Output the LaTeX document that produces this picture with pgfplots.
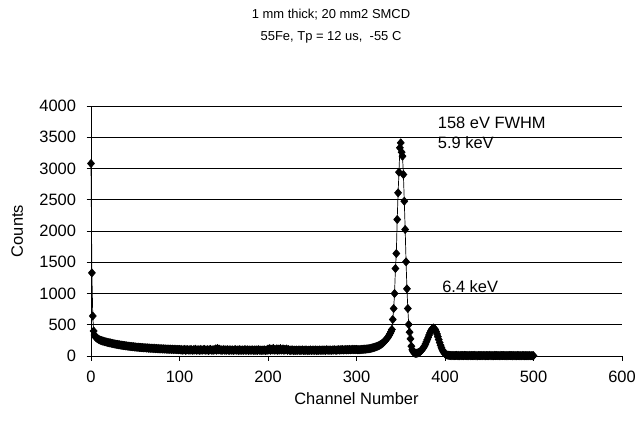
\documentclass[border=0pt]{standalone}
\usepackage{fontspec}
\setmainfont{Liberation Sans}
\usepackage{pgfplots}
\pgfplotsset{compat=1.18}
\begin{document}
\begin{tikzpicture}
\path[use as bounding box] (0,0) rectangle (639bp,421bp);
\begin{axis}[
  at={(91bp,65bp)}, anchor=south west,
  scale only axis, width=531bp, height=250bp,
  xmin=0, xmax=600, ymin=0, ymax=4000,
  xtick={0,100,...,600}, ytick={0,500,...,4000},
  axis lines*=left,
  axis line style={black, line width=0.8bp},
  ymajorgrids, grid style={black, line width=0.7bp},
  tick style={black, line width=0.8bp},
  tick align=outside, major tick length=4.5bp,
  /pgf/number format/assume math mode=true,
  /pgf/number format/1000 sep={},
  scaled ticks=false,
  font=\fontsize{16.5}{19}\selectfont,
  ticklabel style={font=\fontsize{16.5}{19}\selectfont},
  xticklabel style={yshift=-7bp},
  yticklabel style={xshift=-7bp},
  xlabel={Channel Number},
  ylabel={Counts},
  xlabel style={at={(axis description cs:0.5,-0.17)}, anchor=center},
  ylabel style={at={(axis description cs:-0.139,0.5)}, anchor=center},
  title={1 mm thick; 20 mm2 SMCD\\55Fe, Tp = 12 us,\ \ -55 C},
  title style={at={(axis description cs:0.452,1.295)}, anchor=center, align=center, font=\fontsize{13}{22}\selectfont},
  clip=false,
]
\addplot[black, line width=0.7bp, mark=diamond*, mark size=4bp, mark options={solid, fill=black, xscale=1.15}] coordinates {
(0,3080)(1,1330)(2,640)(3,400)(4,335)(5,305)(6,290)(7,280)(8,272)(9,262)(10,258)
(11,250)(12,246)(13,240)(14,238)(15,231)(16,229)(17,224)(18,221)(19,216)(20,214)
(21,210)(22,209)(23,203)(24,202)(25,197)(26,196)(27,191)(28,190)(29,186)(30,185)
(31,180)(32,181)(33,175)(34,176)(35,170)(36,172)(37,166)(38,167)(39,161)(40,163)
(41,158)(42,159)(43,154)(44,156)(45,150)(46,152)(47,147)(48,149)(49,144)(50,146)
(51,141)(52,143)(53,138)(54,141)(55,136)(56,138)(57,133)(58,136)(59,131)(60,134)
(61,129)(62,133)(63,126)(64,131)(65,124)(66,128)(67,122)(68,127)(69,120)(70,125)
(71,118)(72,124)(73,117)(74,121)(75,115)(76,120)(77,113)(78,119)(79,112)(80,117)
(81,110)(82,116)(83,109)(84,114)(85,108)(86,113)(87,106)(88,112)(89,105)(90,111)
(91,104)(92,110)(93,103)(94,109)(95,102)(96,108)(97,101)(98,107)(99,100)(100,106)
(101,98)(102,104)(103,92)(104,101)(105,96)(106,107)(107,90)(108,99)(109,103)(110,94)
(111,100)(112,93)(113,105)(114,97)(115,91)(116,102)(117,96)(118,108)(119,92)(120,99)
(121,95)(122,101)(123,89)(124,104)(125,97)(126,93)(127,100)(128,106)(129,91)(130,98)
(131,94)(132,102)(133,88)(134,99)(135,105)(136,93)(137,97)(138,90)(139,103)(140,96)
(141,115)(142,92)(143,120)(144,98)(145,110)(146,94)(147,101)(148,89)(149,97)(150,104)
(151,93)(152,99)(153,91)(154,102)(155,95)(156,88)(157,100)(158,96)(159,92)(160,98)
(161,90)(162,97)(163,103)(164,91)(165,95)(166,99)(167,87)(168,101)(169,94)(170,92)
(171,98)(172,89)(173,96)(174,102)(175,90)(176,94)(177,99)(178,88)(179,97)(180,93)
(181,91)(182,100)(183,95)(184,87)(185,98)(186,92)(187,96)(188,89)(189,101)(190,94)
(191,90)(192,97)(193,88)(194,95)(195,93)(196,99)(197,86)(198,96)(199,91)(200,112)
(201,94)(202,118)(203,90)(204,108)(205,97)(206,122)(207,92)(208,104)(209,95)(210,115)
(211,89)(212,110)(213,96)(214,119)(215,93)(216,101)(217,114)(218,90)(219,106)(220,98)
(221,112)(222,91)(223,103)(224,95)(225,88)(226,97)(227,92)(228,99)(229,86)(230,94)
(231,90)(232,96)(233,88)(234,93)(235,99)(236,87)(237,95)(238,91)(239,97)(240,89)
(241,94)(242,88)(243,98)(244,92)(245,86)(246,95)(247,90)(248,97)(249,89)(250,93)
(251,96)(252,88)(253,92)(254,99)(255,87)(256,94)(257,90)(258,97)(259,91)(260,95)
(261,89)(262,98)(263,92)(264,95)(265,88)(266,100)(267,93)(268,96)(269,90)(270,99)
(271,94)(272,91)(273,98)(274,93)(275,101)(276,95)(277,90)(278,99)(279,96)(280,102)
(281,93)(282,100)(283,97)(284,104)(285,95)(286,101)(287,98)(288,105)(289,96)(290,103)
(291,99)(292,106)(293,97)(294,104)(295,101)(296,108)(297,99)(298,105)(299,102)(300,107)
(301,100)(302,102)(303,100)(304,104)(305,103)(306,106)(307,105)(308,108)(309,110)(310,109)
(311,112)(312,114)(313,113)(314,117)(315,119)(316,122)(317,126)(318,130)(319,134)(320,138)
(321,143)(322,148)(323,153)(324,159)(325,165)(326,172)(327,180)(328,190)(329,200)(330,212)
(331,225)(332,240)(333,255)(334,272)(335,290)(336,310)(337,335)(338,360)(339,390)(340,424)
(341,584)(342,760)(343,1000)(344,1400)(345,1640)(346,2184)(347,2611)(348,2941)(349,3331)(350,3411)
(351,3261)(352,3197)(353,2904)(354,2477)(355,2024)(356,1507)(357,1075)(358,760)(359,504)(360,381)
(361,275)(362,157)(363,100)(364,70)(365,52)(366,45)(367,42)(368,44)(369,48)(370,55)
(371,62)(372,72)(373,85)(374,100)(375,118)(376,140)(377,165)(378,195)(379,228)(380,262)
(381,298)(382,335)(383,370)(384,400)(385,425)(386,440)(387,448)(388,440)(389,420)(390,390)
(391,352)(392,308)(393,262)(394,215)(395,172)(396,133)(397,100)(398,72)(399,50)(400,35)
(401,25)(402,18)(403,14)(404,12)(405,10)(406,8)(407,7)(408,9)(409,6)(410,8)
(411,5)(412,7)(413,9)(414,6)(415,8)(416,4)(417,7)(418,10)(419,6)(420,8)
(421,5)(422,9)(423,7)(424,6)(425,8)(426,4)(427,7)(428,9)(429,5)(430,8)
(431,6)(432,7)(433,10)(434,5)(435,8)(436,6)(437,4)(438,9)(439,7)(440,6)
(441,8)(442,5)(443,7)(444,9)(445,6)(446,4)(447,8)(448,7)(449,5)(450,9)
(451,6)(452,8)(453,5)(454,7)(455,4)(456,9)(457,6)(458,8)(459,5)(460,7)
(461,6)(462,4)(463,8)(464,7)(465,5)(466,9)(467,6)(468,5)(469,8)(470,4)
(471,7)(472,6)(473,9)(474,5)(475,7)(476,4)(477,8)(478,6)(479,5)(480,7)
(481,4)(482,8)(483,6)(484,5)(485,7)(486,3)(487,6)(488,8)(489,5)(490,4)
(491,7)(492,5)(493,6)(494,4)(495,8)(496,5)(497,3)(498,6)(499,4)(500,5)
};
\node[anchor=west, font=\fontsize{16.5}{19}\selectfont] at (axis cs:388,3736) {158 eV FWHM};
\node[anchor=west, font=\fontsize{16.5}{19}\selectfont] at (axis cs:388,3416) {5.9 keV};
\node[anchor=west, font=\fontsize{16.5}{19}\selectfont] at (axis cs:393,1112) {6.4 keV};
\end{axis}
\end{tikzpicture}
\end{document}
